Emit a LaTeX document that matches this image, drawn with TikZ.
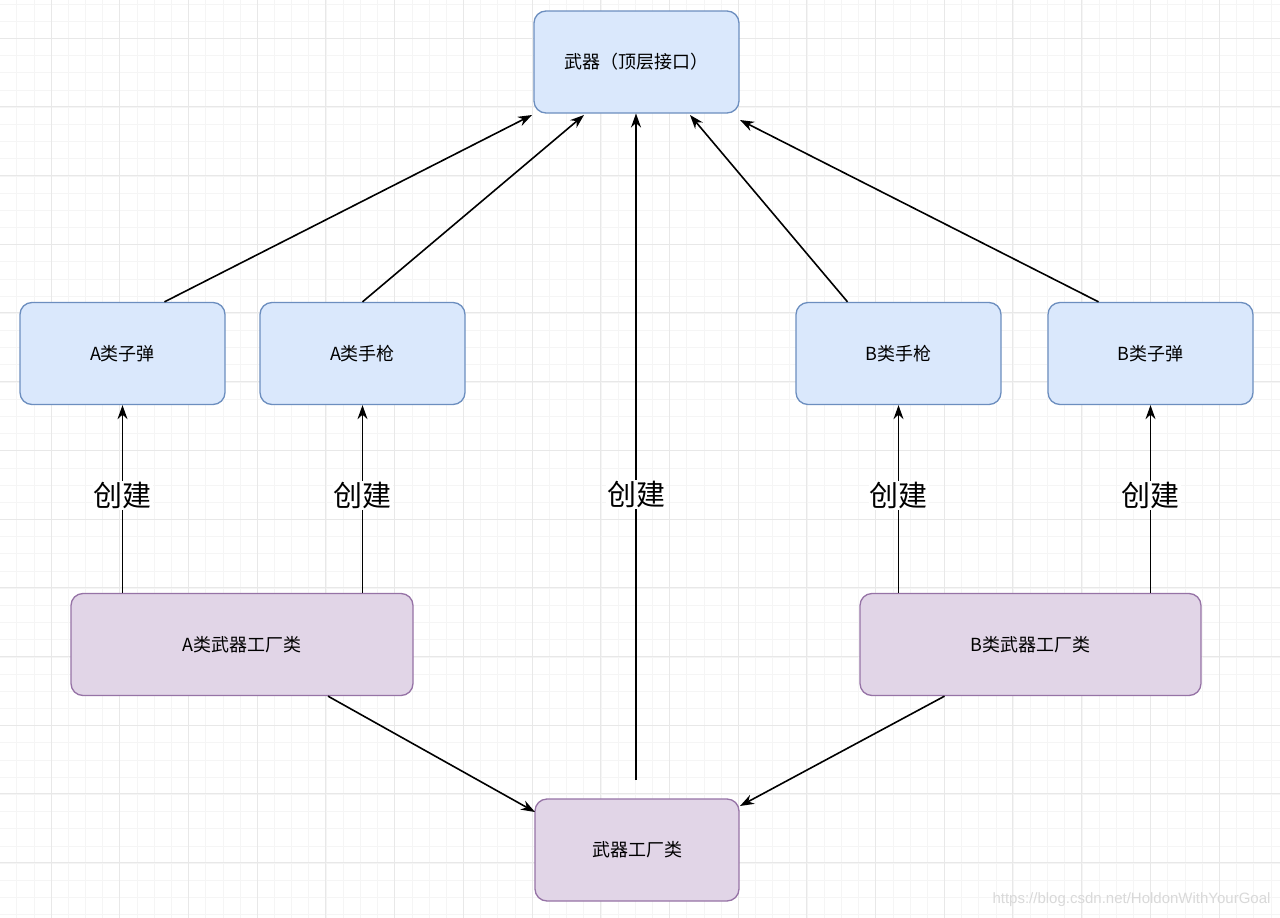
\documentclass[tikz,border=0pt]{standalone}
\usepackage{fontspec}
\setmainfont{Liberation Sans}
\newfontfamily\cjk{Noto Sans CJK SC}
\usetikzlibrary{arrows.meta}
\definecolor{bfill}{HTML}{DAE8FC}\definecolor{bdraw}{HTML}{6C8EBF}
\definecolor{pfill}{HTML}{E1D5E7}\definecolor{pdraw}{HTML}{9673A6}
\begin{document}
\begin{tikzpicture}[x=1pt,y=-1pt,
 box/.style={draw, rounded corners=12pt, line width=1.3pt, font=\cjk\fontsize{18}{20}\selectfont, inner sep=0pt},
 blue/.style={box, fill=bfill, draw=bdraw, minimum width=205pt, minimum height=102pt},
 purp/.style={box, fill=pfill, draw=pdraw, minimum height=102pt},
 arr/.style={-{Stealth[length=14pt,width=10pt]}, line width=1.6pt},
 lab/.style={fill=white, font=\cjk\fontsize{29}{31}\selectfont, inner sep=1pt}]
\useasboundingbox (0,0) rectangle (1280,918);
\fill[white] (0,0) rectangle (1280,918);
\foreach \i in {0,...,75} \draw[black!4, line width=0.6pt] ({-0.5+17.18*\i},0) -- ++(0,918);
\foreach \i in {0,...,54} \draw[black!4, line width=0.6pt] (0,{4+17.18*\i}) -- ++(1280,0);
\foreach \i in {0,...,18} \draw[black!9, line width=0.8pt] ({-17.7+68.7*\i},0) -- ++(0,918);
\foreach \i in {0,...,13} \draw[black!9, line width=0.8pt] (0,{38+68.7*\i}) -- ++(1280,0);
\node[blue] (top) at (636.5,62) {武器（顶层接口）};
\node[blue] (az) at (122.5,353.5) {A类子弹};
\node[blue] (as) at (362.5,353.5) {A类手枪};
\node[blue] (bs) at (898.5,353.5) {B类手枪};
\node[blue] (bz) at (1150.5,353.5) {B类子弹};
\node[purp, minimum width=342pt] (af) at (242,644.5) {A类武器工厂类};
\node[purp, minimum width=341pt] (bf) at (1030.5,644.5) {B类武器工厂类};
\node[purp, minimum width=204pt] (wf) at (637,850) {武器工厂类};
\draw[arr] (az.north)++(42,0) -- (532,115);
\draw[arr] (as.north) -- (584,115);
\draw[arr] (bs.north)++(-51,0) -- (690,115);
\draw[arr] (bz.north)++(-52,0) -- (740,120);
\coordinate (wc) at (636,780);
\draw[arr] (wc) -- (636,113.5) node[lab, pos=0.428] {创建};
\draw[arr] (az.south |- af.north) -- (az.south) node[lab, pos=0.52] {创建};
\draw[arr] (as.south |- af.north) -- (as.south) node[lab, pos=0.52] {创建};
\draw[arr] (bs.south |- bf.north) -- (bs.south) node[lab, pos=0.52] {创建};
\draw[arr] (bz.south |- bf.north) -- (bz.south) node[lab, pos=0.52] {创建};
\draw[arr] (af.south)++(86,0) -- (535,812);
\draw[arr] (bf.south)++(-86,0) -- (740,806);
\node[anchor=east, text=black!15, font=\fontsize{15}{17}\selectfont] (wm) at (1274,900) {https://blog.csdn.net/HoldonWithYourGoal};
\end{tikzpicture}
\end{document}
